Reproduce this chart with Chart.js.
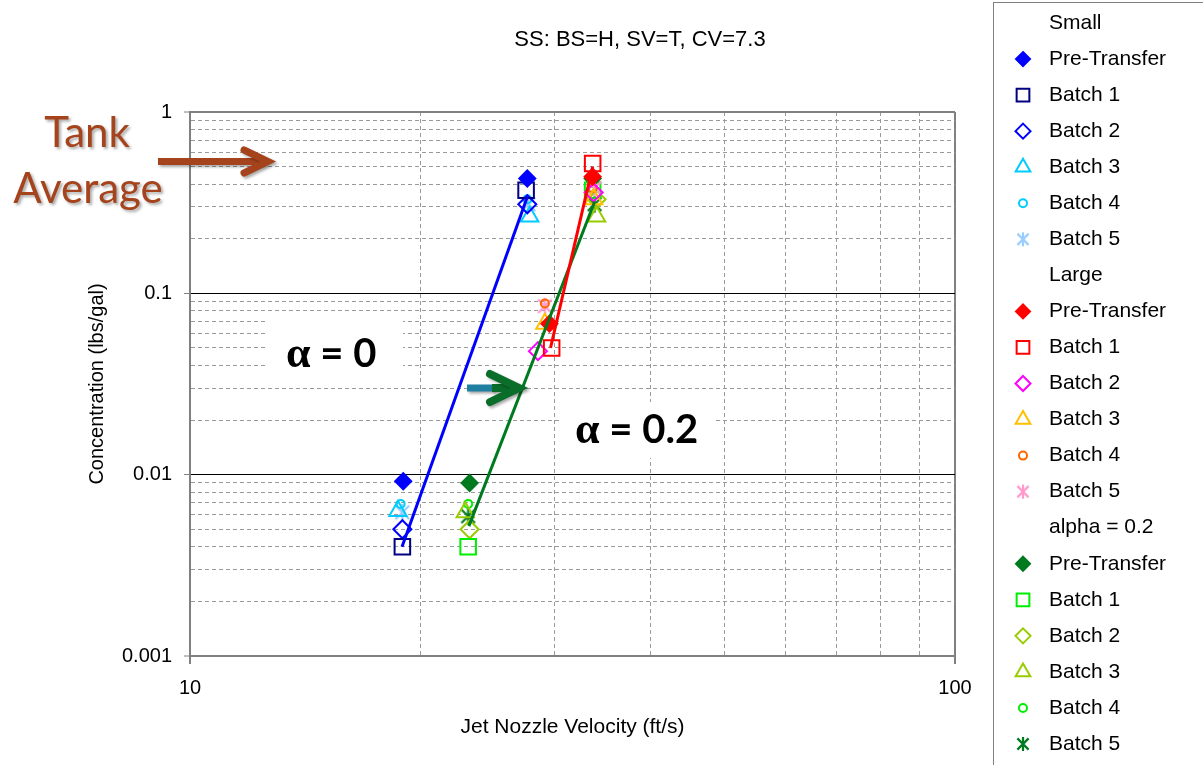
<!DOCTYPE html>
<html>
<head>
<meta charset="utf-8">
<script src="https://cdn.jsdelivr.net/npm/chart.js@4.4.1/dist/chart.umd.min.js"></script>
<style>
  html, body { margin: 0; padding: 0; background: #fff; }
  #wrap { width: 1203px; height: 765px; }
</style>
</head>
<body>
<div id="wrap"><canvas id="chart" width="1203" height="765"></canvas></div>
<script>
// legend labels
const groupNames = ['Small', 'Large', 'alpha = 0.2'];
const batchNames = ['Pre-Transfer', 'Batch 1', 'Batch 2', 'Batch 3', 'Batch 4', 'Batch 5'];

// jet nozzle velocity (ft/s) and concentration (lbs/gal), [low, high] for each batch
const smallVel = [[19.0, 27.6], [18.95, 27.5], [18.95, 27.6], [18.7, 27.8], [18.85, 27.6], [18.95, 27.7]];
const smallConc = [[0.0092, 0.43], [0.0040, 0.37], [0.0050, 0.31], [0.0063, 0.265], [0.0069, 0.33], [0.0062, 0.31]];

const largeVel = [[29.5, 33.6], [29.7, 33.6], [28.5, 33.7], [29.1, 33.7], [29.1, 33.6], [29.1, 33.8]];
const largeConc = [[0.068, 0.44], [0.050, 0.52], [0.048, 0.36], [0.068, 0.33], [0.088, 0.38], [0.085, 0.38]];

const alphaVel = [[23.2, 33.6], [23.1, 33.6], [23.2, 34.0], [22.9, 34.0], [23.1, 33.6], [23.1, 33.8]];
const alphaConc = [[0.0090, 0.43], [0.0040, 0.37], [0.0050, 0.33], [0.0062, 0.265], [0.0069, 0.37], [0.0059, 0.31]];

// trend lines, one per group
const smallLineVel = [18.93, 27.6];
const smallLineConc = [0.0040, 0.34];
const largeLineVel = [29.6, 33.6];
const largeLineConc = [0.050, 0.50];
const alphaLineVel = [23.15, 33.8];
const alphaLineConc = [0.0052, 0.32];

const xTickLabels = ['10', '100'];
const yTickLabels = ['0.001', '0.01', '0.1', '1'];

const smallColors = ['#0000ff', '#000080', '#0000ff', '#00ccff', '#00ccff', '#99ccff'];
const largeColors = ['#ff0000', '#ff0000', '#ff00ff', '#ffc000', '#ff6600', '#ff99cc'];
const alphaColors = ['#007a1f', '#00ee00', '#99cc00', '#99cc00', '#00ee00', '#007a1f'];
const lineColors = ['#0000ff', '#ff0000', '#007a1f'];

const FONT = 'Arial, "Liberation Sans", sans-serif';

// excel style asterisk: an X with a vertical bar
function makeStar(color, size) {
  const c = document.createElement('canvas');
  c.width = size + 4;
  c.height = size + 4;
  const g = c.getContext('2d');
  const m = c.width / 2, h = size / 2;
  g.strokeStyle = color;
  g.lineWidth = 2.2;
  g.beginPath();
  g.moveTo(m - h * 0.8, m - h * 0.8); g.lineTo(m + h * 0.8, m + h * 0.8);
  g.moveTo(m + h * 0.8, m - h * 0.8); g.lineTo(m - h * 0.8, m + h * 0.8);
  g.moveTo(m, m - h); g.lineTo(m, m + h);
  g.stroke();
  return c;
}

const shapes = ['rectRot', 'rect', 'rectRot', 'triangle', 'circle', 'star'];
const radii = [8, 11, 9, 10, 4, 0];
const legendRadii = [7, 9, 7.5, 8.5, 4, 0];

function pointSets(vel, conc, colors) {
  return batchNames.map((name, i) => {
    const filled = i === 0;
    const star = shapes[i] === 'star';
    return {
      label: name,
      data: vel[i].map((v, k) => ({ x: v, y: conc[i][k] })),
      showLine: false,
      pointStyle: star ? makeStar(colors[i], 17) : shapes[i],
      legendStyle: star ? makeStar(colors[i], 14) : shapes[i],
      legendRadius: legendRadii[i],
      pointRadius: radii[i] || 7,
      pointHoverRadius: radii[i] || 7,
      pointBorderWidth: 2,
      borderColor: colors[i],
      backgroundColor: filled ? colors[i] : 'rgba(0,0,0,0)',
      order: 1
    };
  });
}

function lineSet(name, vel, conc, color) {
  return {
    label: name,
    isHeader: true,
    data: vel.map((v, k) => ({ x: v, y: conc[k] })),
    showLine: true,
    borderColor: color,
    borderWidth: 3,
    pointRadius: 0,
    order: 0
  };
}

const datasets = [
  lineSet(groupNames[0], smallLineVel, smallLineConc, lineColors[0]),
  ...pointSets(smallVel, smallConc, smallColors),
  lineSet(groupNames[1], largeLineVel, largeLineConc, lineColors[1]),
  ...pointSets(largeVel, largeConc, largeColors),
  lineSet(groupNames[2], alphaLineVel, alphaLineConc, lineColors[2]),
  ...pointSets(alphaVel, alphaConc, alphaColors)
];

function isDecade(v) {
  const e = Math.log10(v);
  return Math.abs(e - Math.round(e)) < 1e-9;
}

// 1..9 x 10^n, as Excel draws its log gridlines
function logTicks(scale) {
  const out = [];
  const lo = Math.floor(Math.log10(scale.min));
  const hi = Math.ceil(Math.log10(scale.max));
  for (let e = lo; e <= hi; e++) {
    for (let m = 1; m <= 9; m++) {
      const v = Number((m * Math.pow(10, e)).toPrecision(6));
      if (v >= scale.min - 1e-12 && v <= scale.max + 1e-9) out.push({ value: v });
    }
  }
  scale.ticks = out;
}

function drawMarker(ctx, ds, x, y) {
  const st = ds.legendStyle;
  const r = ds.legendRadius;
  ctx.save();
  if (typeof st !== 'string') {
    ctx.drawImage(st, x - st.width / 2, y - st.height / 2);
    ctx.restore();
    return;
  }
  ctx.lineWidth = 2;
  ctx.strokeStyle = ds.borderColor;
  ctx.fillStyle = ds.backgroundColor;
  ctx.beginPath();
  if (st === 'rect') {
    const h = r * Math.SQRT1_2;
    ctx.rect(x - h, y - h, 2 * h, 2 * h);
  } else if (st === 'rectRot') {
    ctx.moveTo(x, y - r); ctx.lineTo(x + r, y); ctx.lineTo(x, y + r); ctx.lineTo(x - r, y);
    ctx.closePath();
  } else if (st === 'triangle') {
    ctx.moveTo(x, y - r);
    ctx.lineTo(x + r * 0.866, y + r / 2);
    ctx.lineTo(x - r * 0.866, y + r / 2);
    ctx.closePath();
  } else {
    ctx.arc(x, y, r, 0, Math.PI * 2);
  }
  ctx.fill();
  ctx.stroke();
  ctx.restore();
}

const boxLegend = {
  id: 'boxLegend',
  afterDraw(chart) {
    const ctx = chart.ctx;
    ctx.save();
    ctx.strokeStyle = '#808080';
    ctx.lineWidth = 1;
    ctx.strokeRect(993.5, 2.5, 260, 800);
    ctx.font = '21px ' + FONT;
    ctx.textBaseline = 'middle';
    ctx.textAlign = 'left';
    chart.data.datasets.forEach((ds, i) => {
      const y = 23 + i * 36.05;
      if (!ds.isHeader) drawMarker(ctx, ds, 1023, y);
      ctx.fillStyle = '#000';
      ctx.fillText(ds.label, 1049, y);
    });
    ctx.restore();
  }
};

function arrow(ctx, x1, x2, y, head, half, width, color) {
  ctx.strokeStyle = color;
  ctx.lineWidth = width;
  ctx.lineJoin = 'miter';
  ctx.lineCap = 'butt';
  ctx.beginPath();
  ctx.moveTo(x1, y);
  ctx.lineTo(x2 - 3, y);
  ctx.stroke();
  ctx.lineCap = 'round';
  ctx.beginPath();
  ctx.moveTo(x2 - head, y - half);
  ctx.lineTo(x2, y);
  ctx.lineTo(x2 - head, y + half);
  ctx.stroke();
}

function alphaText(ctx, rest, x, y) {
  ctx.font = 'bold 44px "Liberation Serif", serif';
  ctx.fillText('\u03b1', x, y);
  const w = ctx.measureText('\u03b1').width;
  ctx.font = 'bold 40px Lato, "Open Sans", sans-serif';
  ctx.fillText(rest, x + w, y);
}

const notes = {
  id: 'notes',
  afterDraw(chart) {
    const ctx = chart.ctx;
    ctx.save();
    // chart title
    ctx.fillStyle = '#000';
    ctx.font = '22px ' + FONT;
    ctx.textAlign = 'center';
    ctx.textBaseline = 'middle';
    ctx.fillText('SS: BS=H, SV=T, CV=7.3', 640, 40);

    // white boxes behind the alpha labels
    ctx.fillStyle = '#fff';
    ctx.fillRect(268, 318, 135, 60);
    ctx.fillRect(562, 402, 152, 56);

    ctx.fillStyle = '#000';
    ctx.textAlign = 'left';
    ctx.textBaseline = 'alphabetic';
    alphaText(ctx, ' = 0', 286, 367);
    alphaText(ctx, ' = 0.2', 575, 443);

    // tank average note
    ctx.shadowColor = 'rgba(0,0,0,0.35)';
    ctx.shadowBlur = 3;
    ctx.shadowOffsetX = 2;
    ctx.shadowOffsetY = 2;
    ctx.fillStyle = '#a5431c';
    ctx.textAlign = 'center';
    ctx.font = '42px Lato, "Open Sans", sans-serif';
    ctx.fillText('Tank', 87, 147);
    ctx.fillText('Average', 88, 203);
    arrow(ctx, 158, 268, 161.5, 24, 11.5, 7, '#a5431c');

    // arrow pointing at the alpha = 0.2 line
    ctx.lineCap = 'butt';
    ctx.strokeStyle = '#1f7fa0';
    ctx.lineWidth = 7;
    ctx.beginPath();
    ctx.moveTo(467, 388);
    ctx.lineTo(494, 388);
    ctx.stroke();
    arrow(ctx, 492, 519, 388, 29, 14, 8, '#0a6e2a');
    ctx.restore();
  }
};

const gridColor = (axisMin, axisMax) => (c) => {
  const v = c.tick ? c.tick.value : null;
  if (v === null) return '#808080';
  if (Math.abs(v - axisMin) < 1e-12 || Math.abs(v - axisMax) < 1e-9) return '#808080';
  return isDecade(v) ? '#000000' : '#9a9a9a';
};
const gridWidth = (axisMin, axisMax) => (c) => {
  const v = c.tick ? c.tick.value : null;
  if (v !== null && (Math.abs(v - axisMin) < 1e-12 || Math.abs(v - axisMax) < 1e-9)) return 2;
  return 1;
};
const tickCol = (c) => (c.tick && isDecade(c.tick.value) ? '#808080' : 'rgba(0,0,0,0)');
const dash = (c) => (c.tick && !isDecade(c.tick.value) ? [4, 3] : []);

new Chart(document.getElementById('chart'), {
  type: 'scatter',
  data: { datasets },
  options: {
    responsive: false,
    animation: false,
    devicePixelRatio: 1,
    layout: { padding: { left: 80, top: 112, right: 248, bottom: 9 } },
    plugins: {
      legend: { display: false },
      title: { display: false },
      tooltip: { enabled: false }
    },
    scales: {
      x: {
        type: 'logarithmic',
        min: 10,
        max: 100,
        afterBuildTicks: logTicks,
        afterFit: (s) => { s.height = 100; },
        grid: {
          color: gridColor(10, 100),
          lineWidth: gridWidth(10, 100),
          tickColor: tickCol,
          tickLength: 8,
          tickWidth: 2
        },
        border: { display: true, color: '#808080', width: 2, dash },
        ticks: {
          autoSkip: false,
          maxRotation: 0,
          padding: 12,
          color: '#000',
          font: { family: FONT, size: 20 },
          callback: (v) => (isDecade(v) ? xTickLabels[Math.round(Math.log10(v)) - 1] : '')
        },
        title: {
          display: true,
          text: 'Jet Nozzle Velocity (ft/s)',
          color: '#000',
          font: { family: FONT, size: 21 },
          padding: { top: 4, bottom: 16 }
        }
      },
      y: {
        type: 'logarithmic',
        min: 0.001,
        max: 1,
        afterBuildTicks: logTicks,
        afterFit: (s) => { s.width = 110; },
        grid: {
          color: gridColor(0.001, 1),
          lineWidth: gridWidth(0.001, 1),
          tickColor: tickCol,
          tickLength: 6,
          tickWidth: 1
        },
        border: { display: true, color: '#808080', width: 2, dash },
        ticks: {
          autoSkip: false,
          padding: 12,
          color: '#000',
          font: { family: FONT, size: 20 },
          callback: (v) => (isDecade(v) ? yTickLabels[Math.round(Math.log10(v)) + 3] : '')
        },
        title: {
          display: true,
          text: 'Concentration (lbs/gal)',
          color: '#000',
          font: { family: FONT, size: 20 },
          padding: { top: 5, bottom: 4 }
        }
      }
    }
  },
  plugins: [boxLegend, notes]
});
</script>
</body>
</html>
